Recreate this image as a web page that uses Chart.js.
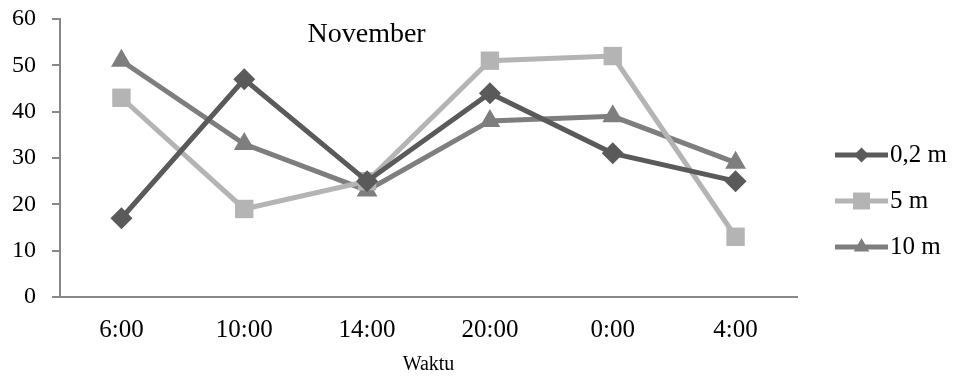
<!DOCTYPE html>
<html lang="id">
<head>
  <meta charset="UTF-8">
  <title>November</title>
  <script src="https://cdn.jsdelivr.net/npm/chart.js"></script>
  <style>
    html, body { margin: 0; padding: 0; background: #fff; }
    #wrap { width: 956px; height: 377px; }
  </style>
</head>
<body>
<div id="wrap"><canvas id="grafik" width="956" height="377"></canvas></div>
<script>
  // data
  const waktu = ['6:00', '10:00', '14:00', '20:00', '0:00', '4:00'];
  const kedalaman02 = [17, 47, 25, 44, 31, 25];
  const kedalaman5 = [43, 19, 25, 51, 52, 13];
  const kedalaman10 = [51, 33, 23, 38, 39, 29];

  const fontSerif = '"Liberation Serif", "Times New Roman", serif';

  // ukuran marker di legend (lebih kecil dari di grafik)
  const radiusLegend = [7.5, 12, 9];

  // judul di dalam area plot + legend kanan
  const hiasan = {
    id: 'hiasan',
    afterDraw(chart) {
      const ctx = chart.ctx;
      const area = chart.chartArea;
      ctx.save();
      ctx.fillStyle = '#000';
      ctx.font = '28px ' + fontSerif;
      ctx.textAlign = 'center';
      ctx.textBaseline = 'alphabetic';
      ctx.fillText('November', area.left + (area.right - area.left) * 0.416, area.top + 23);

      // legend
      const x0 = area.right + 38;
      chart.data.datasets.forEach((ds, i) => {
        const y = 155 + i * 46;
        ctx.strokeStyle = ds.borderColor;
        ctx.lineWidth = 5;
        ctx.beginPath();
        ctx.moveTo(x0, y);
        ctx.lineTo(x0 + 53, y);
        ctx.stroke();
        ctx.fillStyle = ds.backgroundColor;
        Chart.helpers.drawPoint(ctx, {
          pointStyle: ds.pointStyle,
          radius: radiusLegend[i],
          rotation: 0,
          borderWidth: 0
        }, x0 + 26.5, y);
        ctx.fillStyle = '#000';
        ctx.font = '25px ' + fontSerif;
        ctx.textAlign = 'left';
        ctx.textBaseline = 'middle';
        ctx.fillText(ds.label, x0 + 55, y);
      });
      ctx.restore();
    }
  };

  new Chart(document.getElementById('grafik'), {
    type: 'line',
    data: {
      labels: waktu,
      datasets: [
        {
          label: '0,2 m',
          data: kedalaman02,
          borderColor: '#5a5a5a',
          backgroundColor: '#5a5a5a',
          borderWidth: 5,
          pointStyle: 'rectRot',
          pointRadius: 11,
          pointBorderWidth: 0
        },
        {
          label: '5 m',
          data: kedalaman5,
          borderColor: '#b4b4b4',
          backgroundColor: '#b4b4b4',
          borderWidth: 5,
          pointStyle: 'rect',
          pointRadius: 13,
          pointBorderWidth: 0
        },
        {
          label: '10 m',
          data: kedalaman10,
          borderColor: '#7e7e7e',
          backgroundColor: '#7e7e7e',
          borderWidth: 5,
          pointStyle: 'triangle',
          pointRadius: 12,
          pointBorderWidth: 0
        }
      ]
    },
    options: {
      responsive: false,
      animation: false,
      layout: { padding: { left: 0, right: 159, top: 19, bottom: 0 } },
      plugins: {
        legend: { display: false },
        title: { display: false },
        tooltip: { enabled: false }
      },
      scales: {
        x: {
          offset: true,
          grid: { display: false },
          border: { display: true, color: '#888888', width: 2 },
          ticks: { color: '#000', font: { family: fontSerif, size: 25 }, padding: 10 },
          title: { display: true, text: 'Waktu', color: '#000', font: { family: fontSerif, size: 20 }, padding: { top: 0, bottom: 0 } },
          afterFit(scale) {
            scale.height = 80;
            scale.paddingLeft = 0;
            scale.paddingRight = 0;
          }
        },
        y: {
          min: 0,
          max: 60,
          ticks: { stepSize: 10, color: '#000', font: { family: fontSerif, size: 24 }, padding: 16 },
          grid: { drawOnChartArea: false, drawTicks: true, tickLength: 8, color: '#888888', lineWidth: 2 },
          border: { display: true, color: '#888888', width: 2 },
          afterFit(scale) {
            scale.width = 60;
            scale.paddingTop = 0;
            scale.paddingBottom = 0;
          }
        }
      }
    },
    plugins: [hiasan]
  });
</script>
</body>
</html>
